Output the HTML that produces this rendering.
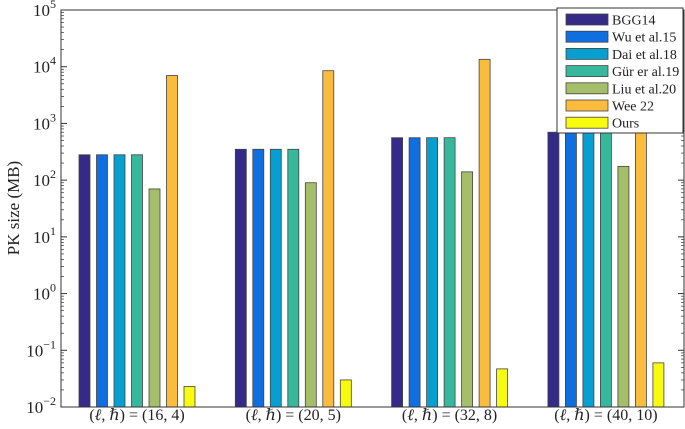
<!DOCTYPE html>
<html><head><meta charset="utf-8"><style>
body{margin:0;background:#fff;}
svg, svg text, svg tspan{font-family:"Liberation Serif","DejaVu Serif",serif;fill:#222;}
</style></head><body>
<svg id="chart" width="685" height="424" font-family="Liberation Serif, serif">
<g id="grid"></g><g id="bars"></g><g id="axes"></g><g id="legend"></g>
</svg>
<script>
const categories=["(16,4)","(20,5)","(32,8)","(40,10)"];
const seriesNames=["BGG14","Wu et al.15","Dai et al.18","Gür er al.19","Liu et al.20","Wee 22","Ours"];
const colors=["#352a87","#0f6ee0","#079fd0","#37b89d","#a5be6a","#fbbc3d","#f9fb0e"];
const bgg14=[280,350,560,700];
const wu15=[280,350,560,700];
const dai18=[280,350,560,700];
const gur19=[280,350,560,700];
const liu20=[70,90,140,175];
const wee22=[7000,8500,13500,17000];
const ours=[0.023,0.03,0.047,0.06];
const yTickExps=[-2,-1,0,1,2,3,4,5];
const series=[bgg14,wu15,dai18,gur19,liu20,wee22,ours];
const NS="http://www.w3.org/2000/svg";
const L=61,R=684,T=10,B=407;
const y=v=>B-(Math.log10(v)+2)/7*(B-T);
const groupCenter=i=>137+i*156.3;
const barStep=17.5,barW=11;
const FF="Liberation Serif, serif";
function mk(t,a,p){const e=document.createElementNS(NS,t);for(const k in a)e.setAttribute(k,a[k]);(p||document.getElementById('chart')).appendChild(e);return e;}
const bars=document.getElementById('bars'),axes=document.getElementById('axes'),lg=document.getElementById('legend');
series.forEach((s,si)=>{s.forEach((v,ci)=>{
 const x=groupCenter(ci)+(si-3)*barStep-barW/2;
 const r=mk('rect',{x:x,y:y(v),width:barW,height:B-y(v),fill:colors[si],stroke:'#444','stroke-width':0.8},bars);
 
 
});});
const frame=mk('rect',{x:L,y:T,width:R-L,height:B-T,fill:'none',stroke:'#333','stroke-width':1},axes);


yTickExps.forEach(e=>{
 const yy=y(Math.pow(10,e));
 mk('line',{x1:L,x2:L+6,y1:yy,y2:yy,stroke:'#333'},axes);
 mk('line',{x1:R,x2:R-6,y1:yy,y2:yy,stroke:'#333'},axes);
 if(e<5){for(let k=2;k<10;k++){const ym=y(k*Math.pow(10,e));
  mk('line',{x1:L,x2:L+3,y1:ym,y2:ym,stroke:'#333','stroke-width':0.7},axes);
  mk('line',{x1:R,x2:R-3,y1:ym,y2:ym,stroke:'#333','stroke-width':0.7},axes);}}
 const t=mk('text',{x:L-5,y:yy+6,'text-anchor':'end','font-size':17,'font-family':FF},axes);
 
 
 t.innerHTML='10<tspan dy="-8" font-size="12">'+e.toString().replace('-','\u2212')+'</tspan>';
});
categories.forEach((c,i)=>{
 const t=mk('text',{x:groupCenter(i),y:B+13,'text-anchor':'middle','font-size':16,'font-family':FF},axes);
 
 
 t.innerHTML='(<tspan font-style="italic">ℓ</tspan>, <tspan font-style="italic">ℏ</tspan>) = '+c.replace(',',', ');
});
const yl=mk('text',{x:0,y:0,transform:'translate(19,208) rotate(-90)','text-anchor':'middle','font-size':17,'font-family':FF},axes);
yl.textContent='PK size (MB)';


const lb=mk('rect',{x:557,y:8,width:126,height:125,fill:'#fff',stroke:'#333'},lg);


seriesNames.forEach((n,i)=>{
 const g=mk('g',{},lg);
 
 
 const yy=14+i*17.2;
 mk('rect',{x:566,y:yy,width:42,height:11,fill:colors[i],stroke:'#444','stroke-width':0.8},g);
 const t=mk('text',{x:612,y:yy+10.5,'font-size':14,'font-family':FF},g);t.textContent=n;
});
</script>
</body></html>
